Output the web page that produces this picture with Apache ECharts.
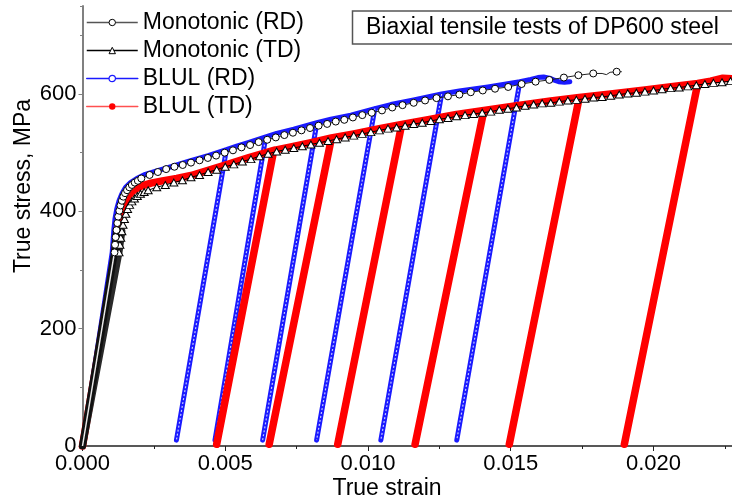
<!DOCTYPE html>
<html><head><meta charset="utf-8">
<script src="https://cdn.jsdelivr.net/npm/echarts@6/dist/echarts.min.js"></script>
<style>html,body{margin:0;padding:0;background:#fff}#c{width:732px;height:502px}</style>
</head><body><div id="c"></div>
<script>
const FONT = "'Liberation Sans', Arial, sans-serif";
const seriesNames = ['Monotonic (RD)', 'Monotonic (TD)', 'BLUL (RD)', 'BLUL (TD)'];
const titleText = 'Biaxial tensile tests of DP600 steel';
const xTitle = 'True strain';
const yTitle = 'True stress, MPa';

// Monotonic (RD): elastic band (dense markers) + marker points
const monoRDBand = [[0,0],[0.00112,330],[0.00119,368]];
const monoRD = [
[0.00112,330],[0.00114,343],[0.00116,356],[0.00119,368],[0.00122,380],[0.00125,391],[0.00129,401],
[0.00133,410],[0.00138,418],[0.00143,425],[0.00149,431],[0.00156,436],[0.00164,441],[0.00173,445],
[0.00183,449],[0.00194,452],[0.00206,456],[0.00235,462],[0.00264,467],[0.00293,472],[0.00322,476],
[0.00351,479],[0.0038,483],[0.0041,487],[0.00439,491],[0.00468,495],[0.00498,500],[0.00527,504],
[0.00557,509],[0.00587,513],[0.00617,518],[0.00647,522],[0.00677,526],[0.00707,530],[0.00737,534],
[0.00767,538],[0.00797,542],[0.00827,546],[0.00857,549],[0.00887,553],[0.00917,556],[0.00947,560],
[0.0098,564],[0.01013,568],[0.01049,572],[0.01085,577],[0.01121,581],[0.0116,585],[0.012,589],
[0.0124,593],[0.0128,596],[0.0132,599],[0.0136,603],[0.01402,606],[0.01445,609],[0.01491,612],
[0.01538,617],[0.01587,621],[0.01635,624],[0.01686,628],[0.01737,632],[0.01789,635],[0.01871,638]
];
const monoRDLineOnly = [[0.0182,635],[0.01835,633],[0.01848,637],[0.01889,638]];

// Monotonic (TD)
const monoTDBand = [[0,0],[0.00128,330],[0.00138,366]];
const monoTD = [
[0.00128,330],[0.00131,343],[0.00134,355],[0.00138,366],[0.00142,377],[0.00147,387],[0.00152,396],
[0.00158,404],[0.00165,411],[0.00173,417],[0.00182,422],[0.00192,426],[0.00203,430],[0.00216,433],
[0.0023,436],[0.0026,441],[0.0029,445],[0.0032,449],[0.0035,453],[0.0038,458],[0.0041,462],[0.0044,467],
[0.0047,471],[0.005,476],[0.0053,480],[0.0056,485],[0.0059,489],[0.0062,494],[0.0065,498],[0.0068,502],
[0.0071,505],[0.0074,508],[0.0077,511],[0.008,514],[0.0083,517],[0.0086,520],[0.0089,523],[0.0092,526],
[0.0095,529],[0.0098,532],[0.0101,535],[0.0104,538],[0.0107,541],[0.011,543],[0.0113,546],[0.0116,549],
[0.0119,551],[0.0122,554],[0.0125,557],[0.0128,559],[0.0131,562],[0.0134,564],[0.0137,566],[0.014,568],
[0.0143,570],[0.0146,573],[0.0149,575],[0.0152,577],[0.0155,580],[0.0158,582],[0.0161,584],[0.0164,585],
[0.0167,587],[0.017,589],[0.0173,590],[0.0176,592],[0.0179,594],[0.0182,595],[0.0185,597],[0.0188,599],
[0.0191,601],[0.0194,602],[0.0197,604],[0.02,606],[0.0203,608],[0.0206,610],[0.0209,611],[0.0212,613],
[0.0215,615],[0.0218,617],[0.0221,619],[0.0224,620],[0.0227,622]
];

// BLUL (RD): loading envelope, unloading points
const blueEnv = [
[0,0],[0.00104,330],[0.00107,350],[0.0011,370],[0.00114,388],[0.0012,404],[0.00128,418],[0.00138,430],
[0.00151,441],[0.00168,449],[0.0019,456],[0.0022,463],[0.0026,469],[0.0031,476],[0.0037,485],[0.0044,495],
[0.00504,505],[0.0054,511],[0.0058,517],[0.00642,527],[0.0068,533],[0.0074,540],[0.00821,551],
[0.0087,557],[0.0094,564],[0.01024,575],[0.0108,582],[0.0116,590],[0.01258,600],[0.0132,605],
[0.0142,612],[0.01532,621],[0.0157,625],[0.01595,628],[0.01615,629],[0.01635,627],[0.0165,624],
[0.01668,621],[0.01688,620],[0.01707,621]
];
const blueUnloadTop = [0.00504,0.00642,0.00821,0.01024,0.01258,0.01532];
const blueUnloadEnd = [0.00329,0.00464,0.00631,0.0082,0.01045,0.01311];
const blueUnloadMin = 10;

// BLUL (TD)
const redEnv = [
[0,0],[0.00112,320],[0.00117,345],[0.00123,366],[0.0013,385],[0.00138,401],[0.00148,415],[0.00162,427],
[0.0018,436],[0.00205,443],[0.0024,448],[0.0028,452],[0.0033,456],[0.0038,461],[0.0044,470],[0.005,479],
[0.0058,491],[0.0067,504],[0.0073,510],[0.008,517],[0.00872,525],[0.0095,532],[0.0104,541],[0.01118,548],
[0.0122,557],[0.0131,565],[0.01406,572],[0.0152,580],[0.0164,588],[0.0174,594],[0.0185,600],[0.0197,607],
[0.0209,614],[0.02155,618],[0.022,622],[0.02243,627],[0.02275,626]
];
const redUnloadTop = [0.0067,0.00872,0.01118,0.01406,0.0174,0.02155];
const redUnloadEnd = [0.0047,0.00654,0.00894,0.01165,0.01495,0.01898];
const redUnloadMin = 3;

function buildPath(env, tops, ends, minS) {
  const out = [];
  env.forEach(p => {
    out.push(p);
    const k = tops.indexOf(p[0]);
    if (k >= 0) { out.push([ends[k], minS]); out.push(p); }
  });
  return out;
}
function segments(env, tops, ends, minS) {
  return tops.map((t, k) => {
    const p = env.find(q => q[0] === t);
    return [p, [ends[k], minS]];
  });
}
const bluePath = buildPath(blueEnv, blueUnloadTop, blueUnloadEnd, blueUnloadMin);
const redPath = buildPath(redEnv, redUnloadTop, redUnloadEnd, redUnloadMin);
const blueSegs = segments(blueEnv, blueUnloadTop, blueUnloadEnd, blueUnloadMin);

const monoRDData = monoRD.map(p => ({value: p}))
  .concat(monoRDLineOnly.map(p => ({value: p, symbol: 'none'})))
  .sort((a, b) => a.value[0] - b.value[0]);

const BLUE = '#1a1aff', RED = '#ff0000';
const series = [];
series.push({name: seriesNames[2], type: 'line', data: bluePath, symbol: 'circle', showSymbol: false,
  lineStyle: {color: BLUE, width: 5, join: 'round', cap: 'round'}, itemStyle: {color: '#fff', borderColor: BLUE, borderWidth: 1}});
blueSegs.forEach((s, k) => series.push({name: '_tex' + k, type: 'line', data: s, symbol: 'none', silent: true,
  lineStyle: {color: '#c4c8ff', width: 1.2, type: [2, 2]}}));
series.push({name: seriesNames[3], type: 'line', data: redPath, symbol: 'circle', showSymbol: false,
  lineStyle: {color: RED, width: 7.5, join: 'round', cap: 'round'}, itemStyle: {color: RED}});
series.push({name: '_tdband', type: 'line', data: monoTDBand, symbol: 'none', silent: true,
  lineStyle: {color: '#2a2a2a', width: 7, cap: 'round', join: 'round'}});
series.push({name: '_rdband', type: 'line', data: monoRDBand, symbol: 'none', silent: true,
  lineStyle: {color: '#111', width: 7, cap: 'round', join: 'round'}});
series.push({name: '_rdband2', type: 'line', data: monoRDBand, symbol: 'none', silent: true,
  lineStyle: {color: '#e8e8e8', width: 1.5}});
series.push({name: seriesNames[1], type: 'line', data: monoTD, symbol: 'triangle', symbolSize: [8, 7],
  itemStyle: {color: '#fff', borderColor: '#000', borderWidth: 1}, lineStyle: {color: '#000', width: 1}});
series.push({name: seriesNames[0], type: 'line', data: monoRDData, symbol: 'circle', symbolSize: 7,
  itemStyle: {color: '#fff', borderColor: '#000', borderWidth: 1}, lineStyle: {color: '#222', width: 1}});
series.forEach(s => { s.animation = false; s.emphasis = {disabled: true}; });

const axisFont = {fontSize: 22, color: '#000', fontFamily: FONT};
const XMAX = 0.02275, YMAX = 750;
const option = {
  animation: false,
  backgroundColor: '#fff',
  grid: {left: 82.5, right: 0, top: 6, bottom: 56, containLabel: false},
  xAxis: [
    {type: 'value', min: 0, max: XMAX, interval: 0.005, position: 'bottom',
     axisLine: {show: true, onZero: false, lineStyle: {color: '#222', width: 1.5}},
     axisTick: {show: true, length: 5, lineStyle: {color: '#222', width: 1}},
     axisLabel: Object.assign({margin: 7, showMaxLabel: false, formatter: v => v.toFixed(3)}, axisFont),
     splitLine: {show: false}},
    {type: 'value', min: 0, max: XMAX, interval: 0.0025, position: 'bottom',
     axisLine: {show: false, onZero: false}, axisTick: {show: true, length: 3, lineStyle: {color: '#222', width: 1}},
     axisLabel: {show: false}, splitLine: {show: false}}
  ],
  yAxis: [
    {type: 'value', min: 0, max: YMAX, interval: 200, position: 'left',
     axisLine: {show: true, onZero: false, lineStyle: {color: '#808080', width: 2}},
     axisTick: {show: true, length: 4, lineStyle: {color: '#808080', width: 1}},
     axisLabel: Object.assign({margin: 6, showMaxLabel: false}, axisFont),
     splitLine: {show: false}},
    {type: 'value', min: 0, max: YMAX, interval: 100, position: 'left',
     axisLine: {show: false, onZero: false}, axisTick: {show: true, length: 2.5, lineStyle: {color: '#808080', width: 1}},
     axisLabel: {show: false}, splitLine: {show: false}}
  ],
  legend: {
    orient: 'vertical', left: 86, top: 11, padding: 0, itemWidth: 51, itemHeight: 8, itemGap: 5, itemTextGap: 6,
    selectedMode: false,
    textStyle: {fontSize: 23, fontFamily: FONT, color: '#000', lineHeight: 23},
    data: [
      {name: seriesNames[0], itemStyle: {color: '#fff', borderColor: '#000', borderWidth: 1}, lineStyle: {color: '#555', width: 1.5}},
      {name: seriesNames[1], itemStyle: {color: '#fff', borderColor: '#000', borderWidth: 1}, lineStyle: {color: '#000', width: 1.5}},
      {name: seriesNames[2], itemStyle: {color: '#fff', borderColor: BLUE, borderWidth: 1.2}, lineStyle: {color: BLUE, width: 1.5}},
      {name: seriesNames[3], itemStyle: {color: RED, borderColor: RED, borderWidth: 0}, lineStyle: {color: '#ff5050', width: 1.5}}
    ]
  },
  graphic: [
    {type: 'rect', shape: {x: 352.5, y: 11, width: 400, height: 33}, style: {fill: '#fff', stroke: '#555', lineWidth: 1.5}, z: 100},
    {type: 'text', x: 366, y: 28, z: 101, style: {text: titleText, fontSize: 23, fontFamily: FONT, fill: '#000', align: 'left', verticalAlign: 'middle'}},
    {type: 'text', x: 387, y: 489, z: 101, style: {text: xTitle, fontSize: 23, fontFamily: FONT, fill: '#000', align: 'center', verticalAlign: 'middle'}},
    {type: 'text', x: 24, y: 186, rotation: Math.PI / 2, z: 101, style: {text: yTitle, fontSize: 23, fontFamily: FONT, fill: '#000', align: 'center', verticalAlign: 'middle'}}
  ],
  series: series
};
const chart = echarts.init(document.getElementById('c'), null, {renderer: 'canvas'});
chart.setOption(option);
</script></body></html>
